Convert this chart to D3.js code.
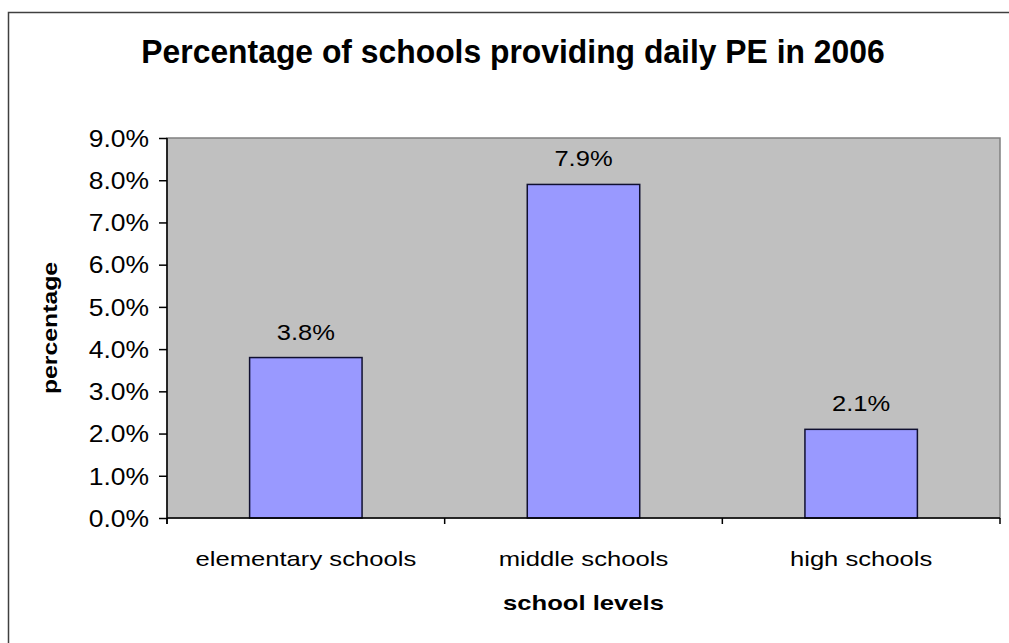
<!DOCTYPE html>
<html>
<head>
<meta charset="utf-8">
<script src="https://cdn.jsdelivr.net/npm/d3@7"></script>
<style>
  body { margin: 0; background: #fff; }
  text { font-family: "Liberation Sans", Arial, sans-serif; fill: #000; }
</style>
</head>
<body>
<div id="chart"></div>
<script>
var categories = ["elementary schools", "middle schools", "high schools"];
var values = [0.038, 0.079, 0.021];
var yTicks = [0, 0.01, 0.02, 0.03, 0.04, 0.05, 0.06, 0.07, 0.08, 0.09];
var title = "Percentage of schools providing daily PE in 2006";
var xTitle = "school levels";
var yTitle = "percentage";

var width = 1009;
var height = 643;
var plotLeft = 167, plotRight = 1000, plotTop = 138, plotBottom = 518;

var svg = d3.select("#chart")
  .append("svg")
  .attr("width", width)
  .attr("height", height);

// stretch text horizontally like the scanned chart
function stretch(sel, k) {
  sel.each(function() {
    var w = this.getComputedTextLength();
    d3.select(this).attr("textLength", w * k).attr("lengthAdjust", "spacingAndGlyphs");
  });
}

// outer frame, runs off the right and bottom edge
svg.append("rect")
  .attr("x", 8.5).attr("y", 12.5)
  .attr("width", 1020).attr("height", 700)
  .attr("fill", "none")
  .attr("stroke", "#404040")
  .attr("stroke-width", 1.5);

var x = d3.scaleBand()
  .domain(categories)
  .range([plotLeft, plotRight])
  .padding(0);

var y = d3.scaleLinear()
  .domain([0, 0.09])
  .range([plotBottom, plotTop]);

// plot area
svg.append("rect")
  .attr("x", plotLeft).attr("y", plotTop)
  .attr("width", plotRight - plotLeft).attr("height", plotBottom - plotTop)
  .attr("fill", "#c0c0c0")
  .attr("stroke", "#808080")
  .attr("stroke-width", 1.5);

// bars
var barW = x.bandwidth() * 0.405;
svg.selectAll("rect.bar")
  .data(values)
  .enter().append("rect")
  .attr("class", "bar")
  .attr("x", (d, i) => x(categories[i]) + x.bandwidth() / 2 - barW / 2)
  .attr("y", d => y(d))
  .attr("width", barW)
  .attr("height", d => plotBottom - y(d))
  .attr("fill", "#9999ff")
  .attr("stroke", "#101030")
  .attr("stroke-width", 1.5);

// value labels
svg.selectAll("text.val")
  .data(values)
  .enter().append("text")
  .attr("class", "val")
  .attr("x", (d, i) => x(categories[i]) + x.bandwidth() / 2)
  .attr("y", d => y(d) - 18)
  .attr("text-anchor", "middle")
  .style("font-size", "22px")
  .text(d => d3.format(".1%")(d))
  .call(stretch, 1.16);

// y axis
var yAxis = svg.append("g")
  .attr("transform", "translate(" + plotLeft + ",0)")
  .call(d3.axisLeft(y).tickValues(yTicks).tickFormat(d3.format(".1%")).tickSize(8).tickPadding(10));
yAxis.select(".domain").remove();
yAxis.selectAll(".tick line").attr("stroke", "#000").attr("stroke-width", 1.5);
yAxis.selectAll(".tick text")
  .attr("font-family", null)
  .attr("font-size", null)
  .style("font-size", "23px")
  .attr("dy", "0.36em")
  .call(stretch, 1.15);

svg.append("line")
  .attr("x1", plotLeft).attr("x2", plotLeft)
  .attr("y1", plotTop).attr("y2", plotBottom + 6)
  .attr("stroke", "#000").attr("stroke-width", 1.5);

// x axis
svg.append("line")
  .attr("x1", plotLeft).attr("x2", plotRight)
  .attr("y1", plotBottom).attr("y2", plotBottom)
  .attr("stroke", "#000").attr("stroke-width", 1.5);

var bounds = categories.map(c => x(c)).concat([plotRight]);
svg.selectAll("line.xtick")
  .data(bounds)
  .enter().append("line")
  .attr("class", "xtick")
  .attr("x1", d => d).attr("x2", d => d)
  .attr("y1", plotBottom).attr("y2", plotBottom + 6)
  .attr("stroke", "#000").attr("stroke-width", 1.5);

svg.selectAll("text.xlab")
  .data(categories)
  .enter().append("text")
  .attr("class", "xlab")
  .attr("x", d => x(d) + x.bandwidth() / 2)
  .attr("y", 566)
  .attr("text-anchor", "middle")
  .style("font-size", "21px")
  .text(d => d)
  .call(stretch, 1.22);

// titles
svg.append("text")
  .attr("x", 513).attr("y", 63)
  .attr("text-anchor", "middle")
  .style("font-size", "33px")
  .style("font-weight", "bold")
  .text(title)
  .call(stretch, 0.965);

svg.append("text")
  .attr("x", (plotLeft + plotRight) / 2).attr("y", 610)
  .attr("text-anchor", "middle")
  .style("font-size", "21px")
  .style("font-weight", "bold")
  .text(xTitle)
  .call(stretch, 1.22);

svg.append("text")
  .attr("transform", "translate(57," + (plotTop + plotBottom) / 2 + ") rotate(-90)")
  .attr("text-anchor", "middle")
  .style("font-size", "21px")
  .style("font-weight", "bold")
  .text(yTitle)
  .call(stretch, 1.18);
</script>
</body>
</html>
